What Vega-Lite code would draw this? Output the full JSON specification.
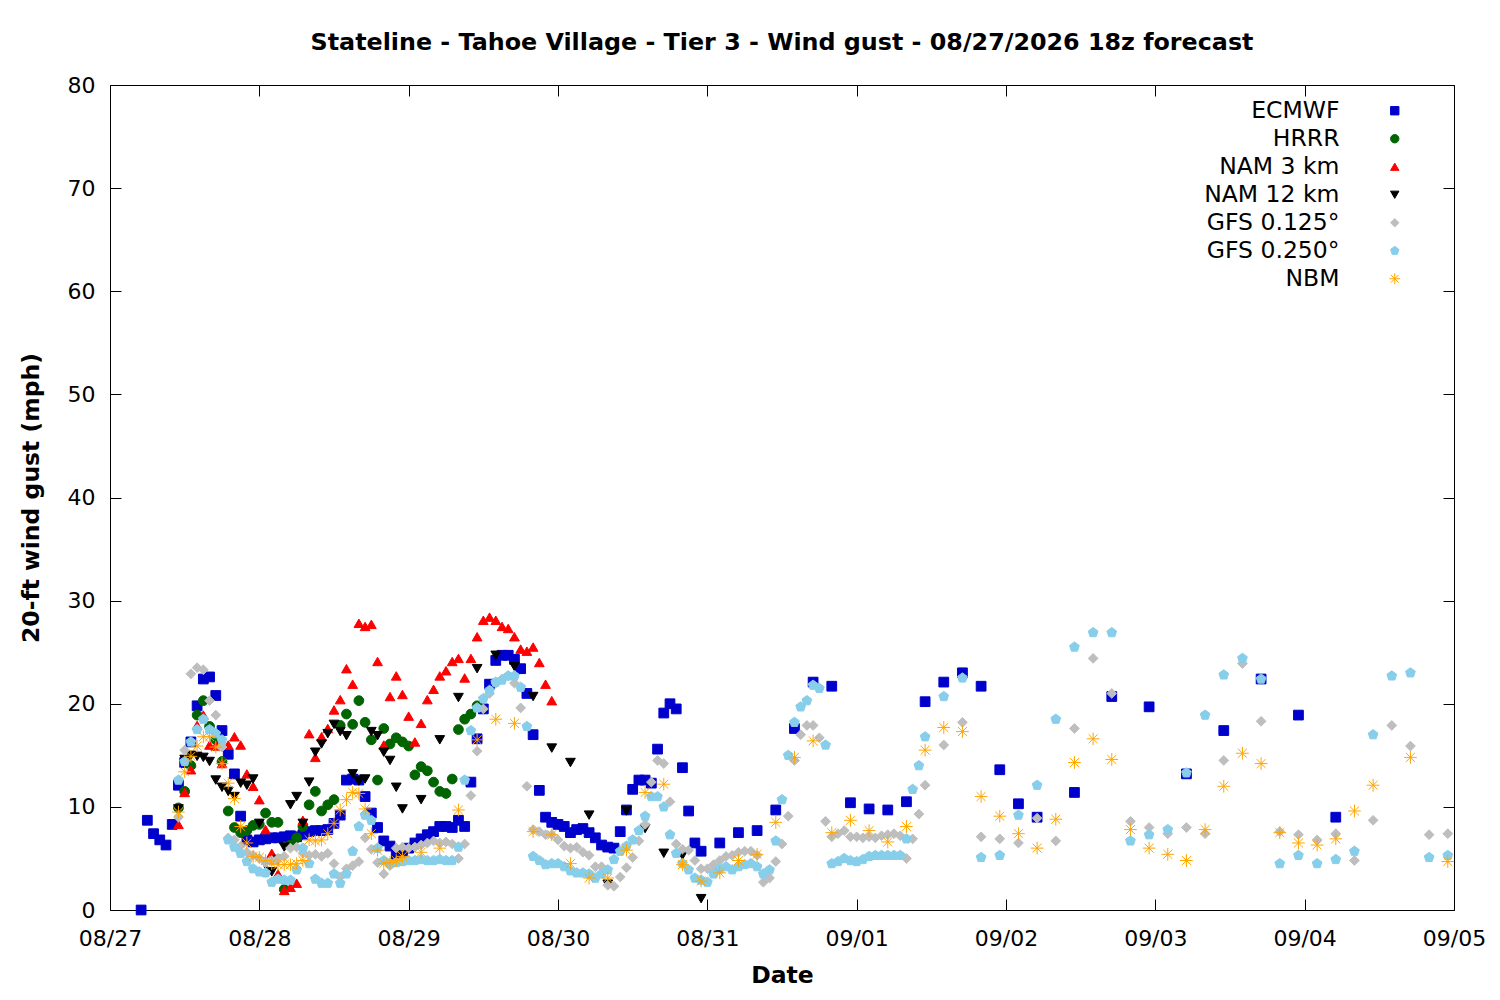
{
  "$schema": "https://vega.github.io/schema/vega-lite/v6.json",
  "width": 1344,
  "height": 825,
  "autosize": "none",
  "padding": {"left": 110, "top": 85, "right": 46, "bottom": 90},
  "background": "white",
  "config": {
    "font": "DejaVu Sans",
    "view": {"stroke": "black", "strokeWidth": 1},
    "axis": {
      "grid": false,
      "domainColor": "black",
      "tickColor": "black",
      "labelColor": "black",
      "titleColor": "black",
      "labelFontSize": 22,
      "titleFontSize": 23.5,
      "titleFontWeight": "bold",
      "tickSize": -11,
      "labelFlush": false,
      "labelOverlap": false
    },
    "axisBottom": {"labelPadding": 29, "titlePadding": 14},
    "axisLeft": {"labelPadding": 26, "titlePadding": 24},
    "legend": {
      "orient": "none",
      "legendX": 1273,
      "legendY": 14,
      "title": null,
      "labelAlign": "right",
      "labelOffset": -67,
      "labelFontSize": 23.5,
      "labelColor": "black",
      "symbolSize": 70,
      "symbolStrokeWidth": 1,
      "rowPadding": 3,
      "labelLimit": 300
    }
  },
  "title": {
    "text": "Stateline - Tahoe Village - Tier 3 - Wind gust - 08/27/2026 18z forecast",
    "fontSize": 23.8,
    "fontWeight": "bold",
    "color": "black",
    "anchor": "middle",
    "offset": 19
  },
  "data": {
    "values": [
      {"m":"ECMWF","h":5,"v":0},{"m":"ECMWF","h":6,"v":8.7},{"m":"ECMWF","h":7,"v":7.4},{"m":"ECMWF","h":8,"v":6.8},{"m":"ECMWF","h":9,"v":6.3},{"m":"ECMWF","h":10,"v":8.3},
      {"m":"ECMWF","h":11,"v":12.1},{"m":"ECMWF","h":12,"v":14.3},{"m":"ECMWF","h":13,"v":16.3},{"m":"ECMWF","h":14,"v":19.8},{"m":"ECMWF","h":15,"v":22.4},{"m":"ECMWF","h":16,"v":22.6},
      {"m":"ECMWF","h":17,"v":20.8},{"m":"ECMWF","h":18,"v":17.4},{"m":"ECMWF","h":19,"v":15.1},{"m":"ECMWF","h":20,"v":13.2},{"m":"ECMWF","h":21,"v":9.1},{"m":"ECMWF","h":22,"v":6.8},
      {"m":"ECMWF","h":23,"v":6.6},{"m":"ECMWF","h":24,"v":6.8},{"m":"ECMWF","h":25,"v":6.9},{"m":"ECMWF","h":26,"v":7.0},{"m":"ECMWF","h":27,"v":7.0},{"m":"ECMWF","h":28,"v":7.1},
      {"m":"ECMWF","h":29,"v":7.2},{"m":"ECMWF","h":30,"v":7.1},{"m":"ECMWF","h":31,"v":7.3},{"m":"ECMWF","h":32,"v":7.6},{"m":"ECMWF","h":33,"v":7.7},{"m":"ECMWF","h":34,"v":7.7},
      {"m":"ECMWF","h":35,"v":7.8},{"m":"ECMWF","h":36,"v":8.4},{"m":"ECMWF","h":37,"v":9.2},{"m":"ECMWF","h":38,"v":12.6},{"m":"ECMWF","h":39,"v":12.7},{"m":"ECMWF","h":40,"v":12.6},
      {"m":"ECMWF","h":41,"v":11.0},{"m":"ECMWF","h":42,"v":9.4},{"m":"ECMWF","h":43,"v":8.0},{"m":"ECMWF","h":44,"v":6.7},{"m":"ECMWF","h":45,"v":6.2},{"m":"ECMWF","h":46,"v":5.3},
      {"m":"ECMWF","h":47,"v":5.6},{"m":"ECMWF","h":48,"v":6.0},{"m":"ECMWF","h":49,"v":6.5},{"m":"ECMWF","h":50,"v":6.9},{"m":"ECMWF","h":51,"v":7.3},{"m":"ECMWF","h":52,"v":7.6},
      {"m":"ECMWF","h":53,"v":8.1},{"m":"ECMWF","h":54,"v":8.1},{"m":"ECMWF","h":55,"v":8.0},{"m":"ECMWF","h":56,"v":8.7},{"m":"ECMWF","h":57,"v":8.1},{"m":"ECMWF","h":58,"v":12.4},
      {"m":"ECMWF","h":59,"v":16.6},{"m":"ECMWF","h":60,"v":19.5},{"m":"ECMWF","h":61,"v":21.9},{"m":"ECMWF","h":62,"v":24.2},{"m":"ECMWF","h":63,"v":24.7},{"m":"ECMWF","h":64,"v":24.7},
      {"m":"ECMWF","h":65,"v":24.3},{"m":"ECMWF","h":66,"v":23.4},{"m":"ECMWF","h":67,"v":21.0},{"m":"ECMWF","h":68,"v":17.0},{"m":"ECMWF","h":69,"v":11.6},{"m":"ECMWF","h":70,"v":9.0},
      {"m":"ECMWF","h":71,"v":8.5},{"m":"ECMWF","h":72,"v":8.3},{"m":"ECMWF","h":73,"v":8.1},{"m":"ECMWF","h":74,"v":7.5},{"m":"ECMWF","h":75,"v":7.8},{"m":"ECMWF","h":76,"v":7.9},
      {"m":"ECMWF","h":77,"v":7.5},{"m":"ECMWF","h":78,"v":7.0},{"m":"ECMWF","h":79,"v":6.3},{"m":"ECMWF","h":80,"v":6.1},{"m":"ECMWF","h":81,"v":6.0},{"m":"ECMWF","h":82,"v":7.6},
      {"m":"ECMWF","h":83,"v":9.7},{"m":"ECMWF","h":84,"v":11.7},{"m":"ECMWF","h":85,"v":12.6},{"m":"ECMWF","h":86,"v":12.6},{"m":"ECMWF","h":87,"v":12.3},{"m":"ECMWF","h":88,"v":15.6},
      {"m":"ECMWF","h":89,"v":19.1},{"m":"ECMWF","h":90,"v":20.0},{"m":"ECMWF","h":91,"v":19.5},{"m":"ECMWF","h":92,"v":13.8},{"m":"ECMWF","h":93,"v":9.6},{"m":"ECMWF","h":94,"v":6.5},
      {"m":"ECMWF","h":95,"v":5.7},{"m":"ECMWF","h":98,"v":6.5},{"m":"ECMWF","h":101,"v":7.5},{"m":"ECMWF","h":104,"v":7.7},{"m":"ECMWF","h":107,"v":9.7},{"m":"ECMWF","h":110,"v":17.6},
      {"m":"ECMWF","h":113,"v":22.1},{"m":"ECMWF","h":116,"v":21.7},{"m":"ECMWF","h":119,"v":10.4},{"m":"ECMWF","h":122,"v":9.8},{"m":"ECMWF","h":125,"v":9.7},{"m":"ECMWF","h":128,"v":10.5},
      {"m":"ECMWF","h":131,"v":20.2},{"m":"ECMWF","h":134,"v":22.1},{"m":"ECMWF","h":137,"v":23.0},{"m":"ECMWF","h":140,"v":21.7},{"m":"ECMWF","h":143,"v":13.6},{"m":"ECMWF","h":146,"v":10.3},
      {"m":"ECMWF","h":149,"v":9.0},{"m":"ECMWF","h":155,"v":11.4},{"m":"ECMWF","h":161,"v":20.7},{"m":"ECMWF","h":167,"v":19.7},{"m":"ECMWF","h":173,"v":13.2},{"m":"ECMWF","h":179,"v":17.4},
      {"m":"ECMWF","h":185,"v":22.4},{"m":"ECMWF","h":191,"v":18.9},{"m":"ECMWF","h":197,"v":9.0},

      {"m":"HRRR","h":11,"v":9.9},{"m":"HRRR","h":12,"v":11.5},{"m":"HRRR","h":13,"v":14.0},{"m":"HRRR","h":14,"v":18.9},{"m":"HRRR","h":15,"v":20.3},{"m":"HRRR","h":16,"v":17.8},
      {"m":"HRRR","h":17,"v":16.5},{"m":"HRRR","h":18,"v":14.4},{"m":"HRRR","h":19,"v":9.6},{"m":"HRRR","h":20,"v":8.0},{"m":"HRRR","h":21,"v":7.5},{"m":"HRRR","h":22,"v":7.7},
      {"m":"HRRR","h":23,"v":8.2},{"m":"HRRR","h":24,"v":8.3},{"m":"HRRR","h":25,"v":9.4},{"m":"HRRR","h":26,"v":8.5},{"m":"HRRR","h":27,"v":8.5},{"m":"HRRR","h":28,"v":2.0},
      {"m":"HRRR","h":29,"v":6.3},{"m":"HRRR","h":30,"v":7.0},{"m":"HRRR","h":31,"v":8.1},{"m":"HRRR","h":32,"v":10.2},{"m":"HRRR","h":33,"v":11.5},{"m":"HRRR","h":34,"v":9.6},
      {"m":"HRRR","h":35,"v":10.2},{"m":"HRRR","h":36,"v":10.7},{"m":"HRRR","h":37,"v":17.9},{"m":"HRRR","h":38,"v":19.0},{"m":"HRRR","h":39,"v":18.0},{"m":"HRRR","h":40,"v":20.3},
      {"m":"HRRR","h":41,"v":18.2},{"m":"HRRR","h":42,"v":16.5},{"m":"HRRR","h":43,"v":12.6},{"m":"HRRR","h":44,"v":17.6},{"m":"HRRR","h":45,"v":16.1},{"m":"HRRR","h":46,"v":16.7},
      {"m":"HRRR","h":47,"v":16.3},{"m":"HRRR","h":48,"v":15.9},{"m":"HRRR","h":49,"v":13.1},{"m":"HRRR","h":50,"v":13.9},{"m":"HRRR","h":51,"v":13.5},{"m":"HRRR","h":52,"v":12.4},
      {"m":"HRRR","h":53,"v":11.5},{"m":"HRRR","h":54,"v":11.3},{"m":"HRRR","h":55,"v":12.7},{"m":"HRRR","h":56,"v":17.5},{"m":"HRRR","h":57,"v":18.5},{"m":"HRRR","h":58,"v":19.0},
      {"m":"HRRR","h":59,"v":19.8},

      {"m":"NAM 3 km","h":11,"v":8.3},{"m":"NAM 3 km","h":12,"v":11.4},{"m":"NAM 3 km","h":13,"v":13.6},{"m":"NAM 3 km","h":14,"v":17.9},{"m":"NAM 3 km","h":15,"v":18.9},{"m":"NAM 3 km","h":16,"v":16.0},
      {"m":"NAM 3 km","h":17,"v":15.9},{"m":"NAM 3 km","h":18,"v":14.2},{"m":"NAM 3 km","h":19,"v":16.0},{"m":"NAM 3 km","h":20,"v":16.8},{"m":"NAM 3 km","h":21,"v":16.0},{"m":"NAM 3 km","h":22,"v":13.2},
      {"m":"NAM 3 km","h":23,"v":12.0},{"m":"NAM 3 km","h":24,"v":10.7},{"m":"NAM 3 km","h":25,"v":7.8},{"m":"NAM 3 km","h":26,"v":5.5},{"m":"NAM 3 km","h":27,"v":3.5},{"m":"NAM 3 km","h":28,"v":1.9},
      {"m":"NAM 3 km","h":29,"v":2.2},{"m":"NAM 3 km","h":30,"v":2.6},{"m":"NAM 3 km","h":31,"v":8.7},{"m":"NAM 3 km","h":32,"v":17.1},{"m":"NAM 3 km","h":33,"v":14.8},{"m":"NAM 3 km","h":34,"v":16.8},
      {"m":"NAM 3 km","h":35,"v":17.6},{"m":"NAM 3 km","h":36,"v":19.4},{"m":"NAM 3 km","h":37,"v":20.4},{"m":"NAM 3 km","h":38,"v":23.4},{"m":"NAM 3 km","h":39,"v":21.9},{"m":"NAM 3 km","h":40,"v":27.8},
      {"m":"NAM 3 km","h":41,"v":27.5},{"m":"NAM 3 km","h":42,"v":27.7},{"m":"NAM 3 km","h":43,"v":24.1},{"m":"NAM 3 km","h":44,"v":16.0},{"m":"NAM 3 km","h":45,"v":20.7},{"m":"NAM 3 km","h":46,"v":22.7},
      {"m":"NAM 3 km","h":47,"v":20.9},{"m":"NAM 3 km","h":48,"v":18.8},{"m":"NAM 3 km","h":49,"v":16.3},{"m":"NAM 3 km","h":50,"v":18.1},{"m":"NAM 3 km","h":51,"v":20.4},{"m":"NAM 3 km","h":52,"v":21.4},
      {"m":"NAM 3 km","h":53,"v":22.7},{"m":"NAM 3 km","h":54,"v":23.2},{"m":"NAM 3 km","h":55,"v":24.1},{"m":"NAM 3 km","h":56,"v":24.4},{"m":"NAM 3 km","h":57,"v":22.5},{"m":"NAM 3 km","h":58,"v":24.4},
      {"m":"NAM 3 km","h":59,"v":26.5},{"m":"NAM 3 km","h":60,"v":28.1},{"m":"NAM 3 km","h":61,"v":28.4},{"m":"NAM 3 km","h":62,"v":28.1},{"m":"NAM 3 km","h":63,"v":27.5},{"m":"NAM 3 km","h":64,"v":27.3},
      {"m":"NAM 3 km","h":65,"v":26.5},{"m":"NAM 3 km","h":66,"v":25.3},{"m":"NAM 3 km","h":67,"v":25.1},{"m":"NAM 3 km","h":68,"v":25.5},{"m":"NAM 3 km","h":69,"v":24.0},{"m":"NAM 3 km","h":70,"v":21.9},
      {"m":"NAM 3 km","h":71,"v":20.3},

      {"m":"NAM 12 km","h":11,"v":9.8},{"m":"NAM 12 km","h":12,"v":14.6},{"m":"NAM 12 km","h":13,"v":15.0},{"m":"NAM 12 km","h":14,"v":14.9},{"m":"NAM 12 km","h":15,"v":14.8},{"m":"NAM 12 km","h":16,"v":14.4},
      {"m":"NAM 12 km","h":17,"v":12.6},{"m":"NAM 12 km","h":18,"v":11.9},{"m":"NAM 12 km","h":19,"v":11.5},{"m":"NAM 12 km","h":20,"v":11.0},{"m":"NAM 12 km","h":21,"v":12.3},{"m":"NAM 12 km","h":22,"v":12.1},
      {"m":"NAM 12 km","h":23,"v":12.7},{"m":"NAM 12 km","h":24,"v":8.4},{"m":"NAM 12 km","h":25,"v":4.4},{"m":"NAM 12 km","h":26,"v":3.7},{"m":"NAM 12 km","h":27,"v":4.9},{"m":"NAM 12 km","h":28,"v":6.1},
      {"m":"NAM 12 km","h":29,"v":10.2},{"m":"NAM 12 km","h":30,"v":11.0},{"m":"NAM 12 km","h":31,"v":8.4},{"m":"NAM 12 km","h":32,"v":12.4},{"m":"NAM 12 km","h":33,"v":15.3},{"m":"NAM 12 km","h":34,"v":16.1},
      {"m":"NAM 12 km","h":35,"v":17.1},{"m":"NAM 12 km","h":36,"v":18.0},{"m":"NAM 12 km","h":37,"v":17.3},{"m":"NAM 12 km","h":38,"v":16.9},{"m":"NAM 12 km","h":39,"v":13.2},{"m":"NAM 12 km","h":40,"v":12.5},
      {"m":"NAM 12 km","h":41,"v":12.7},{"m":"NAM 12 km","h":42,"v":17.3},{"m":"NAM 12 km","h":43,"v":16.9},{"m":"NAM 12 km","h":44,"v":15.3},{"m":"NAM 12 km","h":45,"v":14.5},{"m":"NAM 12 km","h":46,"v":11.9},
      {"m":"NAM 12 km","h":47,"v":9.8},{"m":"NAM 12 km","h":50,"v":10.7},{"m":"NAM 12 km","h":53,"v":16.5},{"m":"NAM 12 km","h":56,"v":20.6},{"m":"NAM 12 km","h":59,"v":23.4},{"m":"NAM 12 km","h":62,"v":24.7},
      {"m":"NAM 12 km","h":65,"v":23.6},{"m":"NAM 12 km","h":68,"v":20.7},{"m":"NAM 12 km","h":71,"v":15.7},{"m":"NAM 12 km","h":74,"v":14.3},{"m":"NAM 12 km","h":77,"v":9.2},{"m":"NAM 12 km","h":80,"v":2.5},
      {"m":"NAM 12 km","h":83,"v":9.6},{"m":"NAM 12 km","h":86,"v":7.9},{"m":"NAM 12 km","h":89,"v":5.5},{"m":"NAM 12 km","h":92,"v":5.3},{"m":"NAM 12 km","h":95,"v":1.1},

      {"m":"GFS 0.125°","h":11,"v":9.0},{"m":"GFS 0.125°","h":12,"v":15.5},{"m":"GFS 0.125°","h":13,"v":22.9},{"m":"GFS 0.125°","h":14,"v":23.5},{"m":"GFS 0.125°","h":15,"v":23.3},{"m":"GFS 0.125°","h":16,"v":20.3},
      {"m":"GFS 0.125°","h":17,"v":18.9},{"m":"GFS 0.125°","h":18,"v":15.8},{"m":"GFS 0.125°","h":19,"v":7.0},{"m":"GFS 0.125°","h":20,"v":6.8},{"m":"GFS 0.125°","h":21,"v":6.2},{"m":"GFS 0.125°","h":22,"v":5.6},
      {"m":"GFS 0.125°","h":23,"v":5.3},{"m":"GFS 0.125°","h":24,"v":5.0},{"m":"GFS 0.125°","h":25,"v":4.6},{"m":"GFS 0.125°","h":26,"v":4.8},{"m":"GFS 0.125°","h":27,"v":5.0},{"m":"GFS 0.125°","h":28,"v":5.2},
      {"m":"GFS 0.125°","h":29,"v":6.0},{"m":"GFS 0.125°","h":30,"v":6.1},{"m":"GFS 0.125°","h":31,"v":5.5},{"m":"GFS 0.125°","h":32,"v":5.3},{"m":"GFS 0.125°","h":33,"v":5.4},{"m":"GFS 0.125°","h":34,"v":5.2},
      {"m":"GFS 0.125°","h":35,"v":5.5},{"m":"GFS 0.125°","h":36,"v":4.5},{"m":"GFS 0.125°","h":37,"v":3.2},{"m":"GFS 0.125°","h":38,"v":4.0},{"m":"GFS 0.125°","h":39,"v":4.3},{"m":"GFS 0.125°","h":40,"v":4.7},
      {"m":"GFS 0.125°","h":41,"v":7.0},{"m":"GFS 0.125°","h":42,"v":5.9},{"m":"GFS 0.125°","h":43,"v":4.6},{"m":"GFS 0.125°","h":44,"v":3.5},{"m":"GFS 0.125°","h":45,"v":4.3},{"m":"GFS 0.125°","h":46,"v":6.0},
      {"m":"GFS 0.125°","h":47,"v":6.1},{"m":"GFS 0.125°","h":48,"v":6.0},{"m":"GFS 0.125°","h":49,"v":6.1},{"m":"GFS 0.125°","h":50,"v":6.3},{"m":"GFS 0.125°","h":51,"v":6.5},{"m":"GFS 0.125°","h":52,"v":6.7},
      {"m":"GFS 0.125°","h":53,"v":6.5},{"m":"GFS 0.125°","h":54,"v":6.6},{"m":"GFS 0.125°","h":55,"v":6.4},{"m":"GFS 0.125°","h":56,"v":5.0},{"m":"GFS 0.125°","h":57,"v":6.4},{"m":"GFS 0.125°","h":58,"v":11.1},
      {"m":"GFS 0.125°","h":59,"v":15.4},{"m":"GFS 0.125°","h":60,"v":19.5},{"m":"GFS 0.125°","h":61,"v":21.0},{"m":"GFS 0.125°","h":62,"v":22.0},{"m":"GFS 0.125°","h":63,"v":22.4},{"m":"GFS 0.125°","h":64,"v":22.7},
      {"m":"GFS 0.125°","h":65,"v":22.0},{"m":"GFS 0.125°","h":66,"v":19.6},{"m":"GFS 0.125°","h":67,"v":12.0},{"m":"GFS 0.125°","h":68,"v":7.8},{"m":"GFS 0.125°","h":69,"v":7.6},{"m":"GFS 0.125°","h":70,"v":7.3},
      {"m":"GFS 0.125°","h":71,"v":7.3},{"m":"GFS 0.125°","h":72,"v":6.8},{"m":"GFS 0.125°","h":73,"v":6.2},{"m":"GFS 0.125°","h":74,"v":6.0},{"m":"GFS 0.125°","h":75,"v":6.1},{"m":"GFS 0.125°","h":76,"v":5.6},
      {"m":"GFS 0.125°","h":77,"v":5.3},{"m":"GFS 0.125°","h":78,"v":4.2},{"m":"GFS 0.125°","h":79,"v":4.2},{"m":"GFS 0.125°","h":80,"v":2.4},{"m":"GFS 0.125°","h":81,"v":2.3},{"m":"GFS 0.125°","h":82,"v":3.2},
      {"m":"GFS 0.125°","h":83,"v":4.1},{"m":"GFS 0.125°","h":84,"v":5.1},{"m":"GFS 0.125°","h":85,"v":6.7},{"m":"GFS 0.125°","h":86,"v":8.3},{"m":"GFS 0.125°","h":87,"v":12.4},{"m":"GFS 0.125°","h":88,"v":14.5},
      {"m":"GFS 0.125°","h":89,"v":14.2},{"m":"GFS 0.125°","h":90,"v":10.5},{"m":"GFS 0.125°","h":91,"v":6.4},{"m":"GFS 0.125°","h":92,"v":5.9},{"m":"GFS 0.125°","h":93,"v":5.8},{"m":"GFS 0.125°","h":94,"v":4.8},
      {"m":"GFS 0.125°","h":95,"v":4.0},{"m":"GFS 0.125°","h":96,"v":4.0},{"m":"GFS 0.125°","h":97,"v":4.4},{"m":"GFS 0.125°","h":98,"v":4.8},{"m":"GFS 0.125°","h":99,"v":5.2},{"m":"GFS 0.125°","h":100,"v":5.3},
      {"m":"GFS 0.125°","h":101,"v":5.6},{"m":"GFS 0.125°","h":102,"v":5.7},{"m":"GFS 0.125°","h":103,"v":5.7},{"m":"GFS 0.125°","h":104,"v":5.3},{"m":"GFS 0.125°","h":105,"v":2.7},{"m":"GFS 0.125°","h":106,"v":3.1},
      {"m":"GFS 0.125°","h":107,"v":4.7},{"m":"GFS 0.125°","h":108,"v":6.4},{"m":"GFS 0.125°","h":109,"v":9.1},{"m":"GFS 0.125°","h":110,"v":14.5},{"m":"GFS 0.125°","h":111,"v":17.0},{"m":"GFS 0.125°","h":112,"v":17.9},
      {"m":"GFS 0.125°","h":113,"v":17.9},{"m":"GFS 0.125°","h":114,"v":16.7},{"m":"GFS 0.125°","h":115,"v":8.6},{"m":"GFS 0.125°","h":116,"v":7.1},{"m":"GFS 0.125°","h":117,"v":7.4},{"m":"GFS 0.125°","h":118,"v":7.7},
      {"m":"GFS 0.125°","h":119,"v":7.1},{"m":"GFS 0.125°","h":120,"v":7.1},{"m":"GFS 0.125°","h":121,"v":7.0},{"m":"GFS 0.125°","h":122,"v":7.1},{"m":"GFS 0.125°","h":123,"v":7.0},{"m":"GFS 0.125°","h":124,"v":7.2},
      {"m":"GFS 0.125°","h":125,"v":7.3},{"m":"GFS 0.125°","h":126,"v":7.4},{"m":"GFS 0.125°","h":127,"v":7.2},{"m":"GFS 0.125°","h":128,"v":5.0},{"m":"GFS 0.125°","h":129,"v":6.9},{"m":"GFS 0.125°","h":130,"v":9.3},
      {"m":"GFS 0.125°","h":131,"v":12.1},{"m":"GFS 0.125°","h":134,"v":16.0},{"m":"GFS 0.125°","h":137,"v":18.2},{"m":"GFS 0.125°","h":140,"v":7.1},{"m":"GFS 0.125°","h":143,"v":6.9},{"m":"GFS 0.125°","h":146,"v":6.5},
      {"m":"GFS 0.125°","h":149,"v":8.9},{"m":"GFS 0.125°","h":152,"v":6.7},{"m":"GFS 0.125°","h":155,"v":17.6},{"m":"GFS 0.125°","h":158,"v":24.4},{"m":"GFS 0.125°","h":161,"v":21.0},{"m":"GFS 0.125°","h":164,"v":8.6},
      {"m":"GFS 0.125°","h":167,"v":8.0},{"m":"GFS 0.125°","h":170,"v":7.4},{"m":"GFS 0.125°","h":173,"v":8.0},{"m":"GFS 0.125°","h":176,"v":7.4},{"m":"GFS 0.125°","h":179,"v":14.5},{"m":"GFS 0.125°","h":182,"v":23.9},
      {"m":"GFS 0.125°","h":185,"v":18.3},{"m":"GFS 0.125°","h":188,"v":7.6},{"m":"GFS 0.125°","h":191,"v":7.3},{"m":"GFS 0.125°","h":194,"v":6.8},{"m":"GFS 0.125°","h":197,"v":7.4},{"m":"GFS 0.125°","h":200,"v":4.8},
      {"m":"GFS 0.125°","h":203,"v":8.7},{"m":"GFS 0.125°","h":206,"v":17.9},{"m":"GFS 0.125°","h":209,"v":15.9},{"m":"GFS 0.125°","h":212,"v":7.3},{"m":"GFS 0.125°","h":215,"v":7.4},

      {"m":"GFS 0.250°","h":11,"v":12.6},{"m":"GFS 0.250°","h":12,"v":14.4},{"m":"GFS 0.250°","h":13,"v":16.3},{"m":"GFS 0.250°","h":14,"v":17.5},{"m":"GFS 0.250°","h":15,"v":18.5},{"m":"GFS 0.250°","h":16,"v":17.5},
      {"m":"GFS 0.250°","h":17,"v":17.1},{"m":"GFS 0.250°","h":18,"v":16.5},{"m":"GFS 0.250°","h":19,"v":6.8},{"m":"GFS 0.250°","h":20,"v":6.1},{"m":"GFS 0.250°","h":21,"v":5.5},{"m":"GFS 0.250°","h":22,"v":4.7},
      {"m":"GFS 0.250°","h":23,"v":4.0},{"m":"GFS 0.250°","h":24,"v":3.7},{"m":"GFS 0.250°","h":25,"v":3.6},{"m":"GFS 0.250°","h":26,"v":2.7},{"m":"GFS 0.250°","h":27,"v":3.0},{"m":"GFS 0.250°","h":28,"v":2.9},
      {"m":"GFS 0.250°","h":29,"v":2.9},{"m":"GFS 0.250°","h":30,"v":3.9},{"m":"GFS 0.250°","h":31,"v":6.0},{"m":"GFS 0.250°","h":32,"v":4.5},{"m":"GFS 0.250°","h":33,"v":3.0},{"m":"GFS 0.250°","h":34,"v":2.6},
      {"m":"GFS 0.250°","h":35,"v":2.6},{"m":"GFS 0.250°","h":36,"v":3.5},{"m":"GFS 0.250°","h":37,"v":2.6},{"m":"GFS 0.250°","h":38,"v":3.5},{"m":"GFS 0.250°","h":39,"v":5.7},{"m":"GFS 0.250°","h":40,"v":8.1},
      {"m":"GFS 0.250°","h":41,"v":9.2},{"m":"GFS 0.250°","h":42,"v":8.7},{"m":"GFS 0.250°","h":43,"v":6.0},{"m":"GFS 0.250°","h":44,"v":4.8},{"m":"GFS 0.250°","h":45,"v":4.5},{"m":"GFS 0.250°","h":46,"v":4.6},
      {"m":"GFS 0.250°","h":47,"v":4.7},{"m":"GFS 0.250°","h":48,"v":4.8},{"m":"GFS 0.250°","h":49,"v":4.8},{"m":"GFS 0.250°","h":50,"v":4.9},{"m":"GFS 0.250°","h":51,"v":4.8},{"m":"GFS 0.250°","h":52,"v":4.8},
      {"m":"GFS 0.250°","h":53,"v":4.9},{"m":"GFS 0.250°","h":54,"v":4.8},{"m":"GFS 0.250°","h":55,"v":4.8},{"m":"GFS 0.250°","h":56,"v":6.1},{"m":"GFS 0.250°","h":57,"v":12.6},{"m":"GFS 0.250°","h":58,"v":17.4},
      {"m":"GFS 0.250°","h":59,"v":19.6},{"m":"GFS 0.250°","h":60,"v":20.5},{"m":"GFS 0.250°","h":61,"v":21.3},{"m":"GFS 0.250°","h":62,"v":22.1},{"m":"GFS 0.250°","h":63,"v":22.3},{"m":"GFS 0.250°","h":64,"v":22.7},
      {"m":"GFS 0.250°","h":65,"v":22.7},{"m":"GFS 0.250°","h":66,"v":21.6},{"m":"GFS 0.250°","h":67,"v":17.8},{"m":"GFS 0.250°","h":68,"v":5.2},{"m":"GFS 0.250°","h":69,"v":4.8},{"m":"GFS 0.250°","h":70,"v":4.4},
      {"m":"GFS 0.250°","h":71,"v":4.5},{"m":"GFS 0.250°","h":72,"v":4.5},{"m":"GFS 0.250°","h":73,"v":4.2},{"m":"GFS 0.250°","h":74,"v":3.8},{"m":"GFS 0.250°","h":75,"v":3.6},{"m":"GFS 0.250°","h":76,"v":3.6},
      {"m":"GFS 0.250°","h":77,"v":3.5},{"m":"GFS 0.250°","h":78,"v":3.1},{"m":"GFS 0.250°","h":79,"v":3.5},{"m":"GFS 0.250°","h":80,"v":3.9},{"m":"GFS 0.250°","h":81,"v":4.9},{"m":"GFS 0.250°","h":82,"v":5.7},
      {"m":"GFS 0.250°","h":83,"v":6.2},{"m":"GFS 0.250°","h":84,"v":6.8},{"m":"GFS 0.250°","h":85,"v":7.7},{"m":"GFS 0.250°","h":86,"v":9.1},{"m":"GFS 0.250°","h":87,"v":11.0},{"m":"GFS 0.250°","h":88,"v":11.0},
      {"m":"GFS 0.250°","h":89,"v":10.0},{"m":"GFS 0.250°","h":90,"v":7.3},{"m":"GFS 0.250°","h":91,"v":5.5},{"m":"GFS 0.250°","h":92,"v":4.5},{"m":"GFS 0.250°","h":93,"v":3.9},{"m":"GFS 0.250°","h":94,"v":3.1},
      {"m":"GFS 0.250°","h":95,"v":2.9},{"m":"GFS 0.250°","h":96,"v":2.7},{"m":"GFS 0.250°","h":97,"v":3.5},{"m":"GFS 0.250°","h":98,"v":4.0},{"m":"GFS 0.250°","h":99,"v":4.2},{"m":"GFS 0.250°","h":100,"v":3.9},
      {"m":"GFS 0.250°","h":101,"v":4.2},{"m":"GFS 0.250°","h":102,"v":4.4},{"m":"GFS 0.250°","h":103,"v":4.5},{"m":"GFS 0.250°","h":104,"v":4.2},{"m":"GFS 0.250°","h":105,"v":3.5},{"m":"GFS 0.250°","h":106,"v":3.9},
      {"m":"GFS 0.250°","h":107,"v":6.7},{"m":"GFS 0.250°","h":108,"v":10.7},{"m":"GFS 0.250°","h":109,"v":15.0},{"m":"GFS 0.250°","h":110,"v":18.2},{"m":"GFS 0.250°","h":111,"v":19.7},{"m":"GFS 0.250°","h":112,"v":20.3},
      {"m":"GFS 0.250°","h":113,"v":21.8},{"m":"GFS 0.250°","h":114,"v":21.5},{"m":"GFS 0.250°","h":115,"v":16.0},{"m":"GFS 0.250°","h":116,"v":4.5},{"m":"GFS 0.250°","h":117,"v":4.7},{"m":"GFS 0.250°","h":118,"v":5.0},
      {"m":"GFS 0.250°","h":119,"v":4.8},{"m":"GFS 0.250°","h":120,"v":4.7},{"m":"GFS 0.250°","h":121,"v":4.9},{"m":"GFS 0.250°","h":122,"v":5.2},{"m":"GFS 0.250°","h":123,"v":5.3},{"m":"GFS 0.250°","h":124,"v":5.3},
      {"m":"GFS 0.250°","h":125,"v":5.3},{"m":"GFS 0.250°","h":126,"v":5.3},{"m":"GFS 0.250°","h":127,"v":5.3},{"m":"GFS 0.250°","h":128,"v":6.9},{"m":"GFS 0.250°","h":129,"v":11.7},{"m":"GFS 0.250°","h":130,"v":14.0},
      {"m":"GFS 0.250°","h":131,"v":16.8},{"m":"GFS 0.250°","h":134,"v":20.7},{"m":"GFS 0.250°","h":137,"v":22.5},{"m":"GFS 0.250°","h":140,"v":5.1},{"m":"GFS 0.250°","h":143,"v":5.3},{"m":"GFS 0.250°","h":146,"v":9.2},
      {"m":"GFS 0.250°","h":149,"v":12.1},{"m":"GFS 0.250°","h":152,"v":18.5},{"m":"GFS 0.250°","h":155,"v":25.5},{"m":"GFS 0.250°","h":158,"v":26.9},{"m":"GFS 0.250°","h":161,"v":26.9},{"m":"GFS 0.250°","h":164,"v":6.7},
      {"m":"GFS 0.250°","h":167,"v":7.3},{"m":"GFS 0.250°","h":170,"v":7.8},{"m":"GFS 0.250°","h":173,"v":13.3},{"m":"GFS 0.250°","h":176,"v":18.9},{"m":"GFS 0.250°","h":179,"v":22.8},{"m":"GFS 0.250°","h":182,"v":24.4},
      {"m":"GFS 0.250°","h":185,"v":22.4},{"m":"GFS 0.250°","h":188,"v":4.5},{"m":"GFS 0.250°","h":191,"v":5.3},{"m":"GFS 0.250°","h":194,"v":4.5},{"m":"GFS 0.250°","h":197,"v":4.9},{"m":"GFS 0.250°","h":200,"v":5.7},
      {"m":"GFS 0.250°","h":203,"v":17.0},{"m":"GFS 0.250°","h":206,"v":22.7},{"m":"GFS 0.250°","h":209,"v":23.0},{"m":"GFS 0.250°","h":212,"v":5.1},{"m":"GFS 0.250°","h":215,"v":5.3},

      {"m":"NBM","h":11,"v":9.5},{"m":"NBM","h":12,"v":13.4},{"m":"NBM","h":13,"v":14.9},{"m":"NBM","h":14,"v":15.9},{"m":"NBM","h":15,"v":16.8},{"m":"NBM","h":16,"v":16.8},
      {"m":"NBM","h":17,"v":15.8},{"m":"NBM","h":18,"v":14.2},{"m":"NBM","h":19,"v":12.3},{"m":"NBM","h":20,"v":10.8},{"m":"NBM","h":21,"v":8.1},{"m":"NBM","h":22,"v":6.5},
      {"m":"NBM","h":23,"v":5.2},{"m":"NBM","h":24,"v":5.1},{"m":"NBM","h":25,"v":4.8},{"m":"NBM","h":26,"v":4.5},{"m":"NBM","h":27,"v":4.4},{"m":"NBM","h":28,"v":4.4},
      {"m":"NBM","h":29,"v":4.4},{"m":"NBM","h":30,"v":4.5},{"m":"NBM","h":31,"v":4.8},{"m":"NBM","h":32,"v":6.8},{"m":"NBM","h":33,"v":6.7},{"m":"NBM","h":34,"v":6.8},
      {"m":"NBM","h":35,"v":7.4},{"m":"NBM","h":36,"v":8.4},{"m":"NBM","h":37,"v":9.7},{"m":"NBM","h":38,"v":10.7},{"m":"NBM","h":39,"v":11.4},{"m":"NBM","h":40,"v":11.3},
      {"m":"NBM","h":41,"v":9.8},{"m":"NBM","h":42,"v":7.4},{"m":"NBM","h":43,"v":5.8},{"m":"NBM","h":44,"v":4.5},{"m":"NBM","h":45,"v":4.6},{"m":"NBM","h":46,"v":4.8},
      {"m":"NBM","h":47,"v":5.2},{"m":"NBM","h":50,"v":5.6},{"m":"NBM","h":53,"v":6.0},{"m":"NBM","h":56,"v":9.7},{"m":"NBM","h":59,"v":16.5},{"m":"NBM","h":62,"v":18.5},
      {"m":"NBM","h":65,"v":18.1},{"m":"NBM","h":68,"v":7.6},{"m":"NBM","h":71,"v":7.3},{"m":"NBM","h":74,"v":4.5},{"m":"NBM","h":77,"v":3.1},{"m":"NBM","h":80,"v":3.1},
      {"m":"NBM","h":83,"v":5.8},{"m":"NBM","h":86,"v":11.4},{"m":"NBM","h":89,"v":12.2},{"m":"NBM","h":92,"v":4.4},{"m":"NBM","h":95,"v":2.8},{"m":"NBM","h":98,"v":3.6},
      {"m":"NBM","h":101,"v":4.8},{"m":"NBM","h":104,"v":5.4},{"m":"NBM","h":107,"v":8.5},{"m":"NBM","h":110,"v":14.8},{"m":"NBM","h":113,"v":16.4},{"m":"NBM","h":116,"v":7.5},
      {"m":"NBM","h":119,"v":8.7},{"m":"NBM","h":122,"v":7.7},{"m":"NBM","h":125,"v":6.6},{"m":"NBM","h":128,"v":8.1},{"m":"NBM","h":131,"v":15.5},{"m":"NBM","h":134,"v":17.7},
      {"m":"NBM","h":137,"v":17.3},{"m":"NBM","h":140,"v":11.0},{"m":"NBM","h":143,"v":9.1},{"m":"NBM","h":146,"v":7.4},{"m":"NBM","h":149,"v":6.0},{"m":"NBM","h":152,"v":8.8},
      {"m":"NBM","h":155,"v":14.3},{"m":"NBM","h":158,"v":16.6},{"m":"NBM","h":161,"v":14.6},{"m":"NBM","h":164,"v":7.8},{"m":"NBM","h":167,"v":6.0},{"m":"NBM","h":170,"v":5.4},
      {"m":"NBM","h":173,"v":4.8},{"m":"NBM","h":176,"v":7.8},{"m":"NBM","h":179,"v":12.0},{"m":"NBM","h":182,"v":15.2},{"m":"NBM","h":185,"v":14.2},{"m":"NBM","h":188,"v":7.5},
      {"m":"NBM","h":191,"v":6.5},{"m":"NBM","h":194,"v":6.3},{"m":"NBM","h":197,"v":6.9},{"m":"NBM","h":200,"v":9.6},{"m":"NBM","h":203,"v":12.1},{"m":"NBM","h":209,"v":14.8},
      {"m":"NBM","h":215,"v":4.7}
    ]
  },
  "layer": [
    {
      "mark": {"type": "point", "opacity": 0},
      "encoding": {
        "x": {
          "field": "h", "type": "quantitative",
          "scale": {"domain": [0, 216], "nice": false, "zero": false},
          "axis": {"orient": "top", "values": [0, 24, 48, 72, 96, 120, 144, 168, 192, 216], "labels": false, "title": null, "domain": false}
        },
        "y": {
          "field": "v", "type": "quantitative",
          "scale": {"domain": [0, 80], "nice": false},
          "axis": {"orient": "right", "values": [0, 10, 20, 30, 40, 50, 60, 70, 80], "labels": false, "title": null, "domain": false}
        }
      }
    },
    {
      "mark": {"type": "point", "size": 95, "strokeWidth": 1, "opacity": 1},
      "encoding": {
        "x": {
          "field": "h", "type": "quantitative",
          "scale": {"domain": [0, 216], "nice": false, "zero": false},
          "axis": {
            "orient": "bottom",
            "values": [0, 24, 48, 72, 96, 120, 144, 168, 192, 216],
            "labelExpr": "['08/27','08/28','08/29','08/30','08/31','09/01','09/02','09/03','09/04','09/05'][round(datum.value / 24)]",
            "title": "Date",
            "domain": false
          }
        },
        "y": {
          "field": "v", "type": "quantitative",
          "scale": {"domain": [0, 80], "nice": false},
          "axis": {
            "orient": "left",
            "values": [0, 10, 20, 30, 40, 50, 60, 70, 80],
            "title": "20-ft wind gust (mph)",
            "domain": false
          }
        },
        "fill": {
          "field": "m", "type": "nominal",
          "scale": {
            "domain": ["ECMWF", "HRRR", "NAM 3 km", "NAM 12 km", "GFS 0.125°", "GFS 0.250°", "NBM"],
            "range": ["#0000cc", "#006400", "#ff0000", "#000000", "#bebebe", "#87ceeb", "transparent"]
          }
        },
        "stroke": {
          "field": "m", "type": "nominal",
          "scale": {
            "domain": ["ECMWF", "HRRR", "NAM 3 km", "NAM 12 km", "GFS 0.125°", "GFS 0.250°", "NBM"],
            "range": ["#0000cc", "#006400", "#ff0000", "#000000", "#bebebe", "#87ceeb", "#ffa500"]
          }
        },
        "shape": {
          "field": "m", "type": "nominal",
          "scale": {
            "domain": ["ECMWF", "HRRR", "NAM 3 km", "NAM 12 km", "GFS 0.125°", "GFS 0.250°", "NBM"],
            "range": [
              "square", "circle", "triangle-up", "triangle-down", "diamond",
              "M0,-1.05L1,-0.32L0.62,0.85L-0.62,0.85L-1,-0.32Z",
              "M0,-1.3L0,1.3M-1.3,0L1.3,0M-0.92,-0.92L0.92,0.92M-0.92,0.92L0.92,-0.92"
            ]
          }
        }
      }
    }
  ],
  "resolve": {"axis": {"x": "independent", "y": "independent"}}
}
